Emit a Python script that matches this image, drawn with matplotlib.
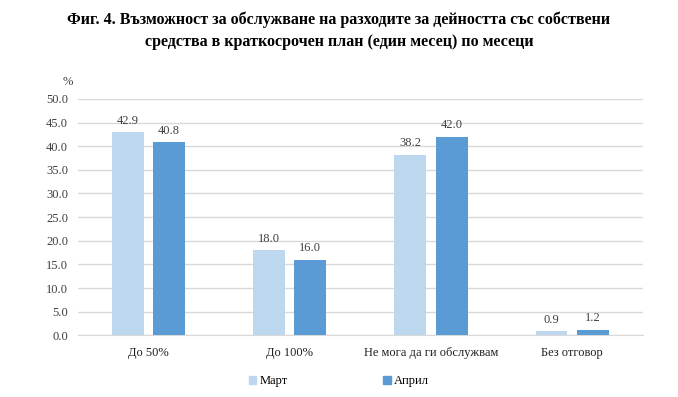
import matplotlib.pyplot as plt
import numpy as np
from matplotlib.patches import Patch

plt.rcParams["font.family"] = ["Liberation Serif", "DejaVu Serif"]

CATEGORIES = ["До 50%", "До 100%", "Не мога да ги обслужвам", "Без отговор"]
MARCH = [42.9, 18.0, 38.2, 0.9]
APRIL = [40.8, 16.0, 42.0, 1.2]
SERIES_NAMES = ["Март", "Април"]
YTICKS = [0, 5, 10, 15, 20, 25, 30, 35, 40, 45, 50]

COLORS = ["#BDD7EE", "#5B9BD5"]
TITLE = ("Фиг. 4. Възможност за обслужване на разходите за дейността със собствени\n"
         "средства в краткосрочен план (един месец) по месеци")

fig = plt.figure(figsize=(6.78, 3.97), dpi=100)
ax = fig.add_axes([0.115, 0.155, 0.833, 0.596])

x = np.arange(len(CATEGORIES))
width = 0.226
offset = 0.146
for vals, col, sign in [(MARCH, COLORS[0], -1), (APRIL, COLORS[1], 1)]:
    bars = ax.bar(x + sign * offset, vals, width=width, color=col, zorder=3)
    for b, v in zip(bars, vals):
        ax.text(b.get_x() + b.get_width() / 2, v + 1.2, f"{v:.1f}",
                ha="center", va="bottom", fontsize=9, color="#404040")

ax.set_xlim(-0.5, len(CATEGORIES) - 0.5)
ax.set_ylim(0, 50)
ax.set_yticks(YTICKS)
ax.set_yticklabels([f"{t:.1f}" for t in YTICKS], fontsize=9, color="#404040")
ax.set_xticks(x)
ax.set_xticklabels(CATEGORIES, fontsize=9, color="#202020")
ax.tick_params(length=0, pad=7)
ax.tick_params(axis="x", pad=8)
ax.grid(axis="y", color="#d9d9d9", lw=1, zorder=0)
for s in ["top", "right", "left"]:
    ax.spines[s].set_visible(False)
ax.spines["bottom"].set_color("#d9d9d9")

fig.text(0.093, 0.785, "%", fontsize=9, color="#404040")
fig.suptitle(TITLE, y=0.972, fontsize=11.5, fontweight="bold", linespacing=1.55)

handles = [Patch(color=c) for c in COLORS]
fig.legend(handles, SERIES_NAMES, loc="center", bbox_to_anchor=(0.5, 0.04),
           ncol=2, frameon=False, fontsize=9, handlelength=0.6, handleheight=0.6,
           handletextpad=0.3, columnspacing=7.6)

fig.savefig("out.png", dpi=100)
